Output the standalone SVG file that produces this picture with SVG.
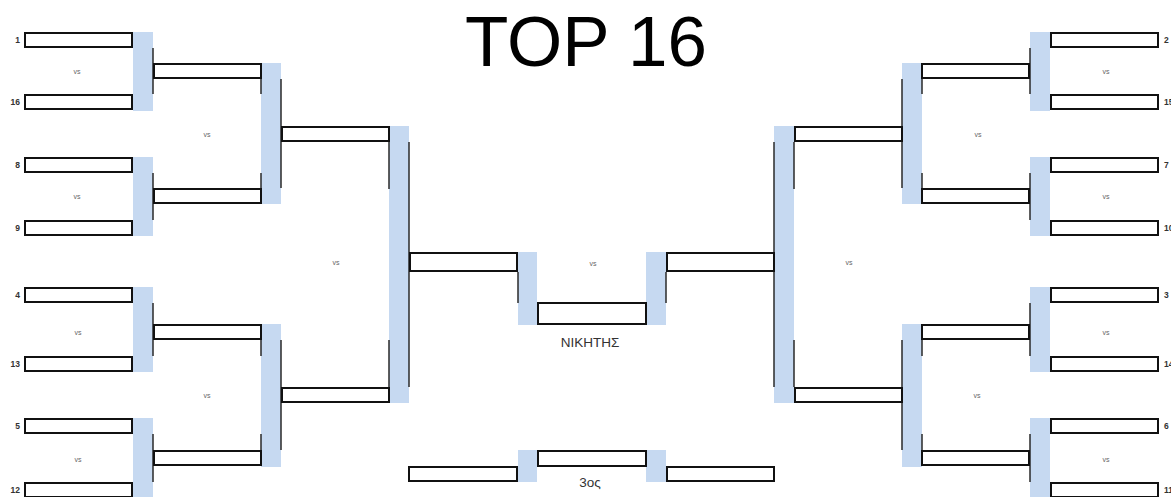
<svg xmlns="http://www.w3.org/2000/svg" width="1171" height="497" viewBox="0 0 1171 497">
<style>
.box{fill:#fff;stroke:#111;stroke-width:2}
.bar{fill:#c6d9f1}
.ln{stroke:#2a2a2a;stroke-width:1.5;fill:none}
.seed{font-family:"Liberation Sans",Arial,sans-serif;font-size:8.5px;font-weight:bold;fill:#333}
.vs{font-family:"Liberation Sans",Arial,sans-serif;font-size:7px;fill:#666;text-anchor:middle}
.lbl{font-family:"Liberation Sans",Arial,sans-serif;font-size:13.5px;fill:#333;text-anchor:middle}
.title{font-family:"Liberation Sans",Arial,sans-serif;font-size:71px;fill:#000;text-anchor:middle}
</style>
<rect width="1171" height="497" fill="#fff"/>
<text class="title" x="586" y="66">TOP 16</text>

<g id="connectors">
  <!-- blue bracket bars -->
  <rect class="bar" x="133" y="32" width="20" height="79"/>
  <rect class="bar" x="133" y="157" width="20" height="79"/>
  <rect class="bar" x="133" y="287" width="20" height="85"/>
  <rect class="bar" x="133" y="418" width="20" height="79"/>
  <rect class="bar" x="261" y="63" width="20" height="141"/>
  <rect class="bar" x="261" y="324" width="20" height="143"/>
  <rect class="bar" x="389" y="126" width="20" height="277"/>
  <rect class="bar" x="518" y="252" width="19" height="73"/>
  <rect class="bar" x="646" y="252" width="20" height="73"/>
  <rect class="bar" x="518" y="450" width="19" height="32"/>
  <rect class="bar" x="646" y="450" width="20" height="32"/>
  <rect class="bar" x="774" y="126" width="20" height="277"/>
  <rect class="bar" x="902" y="63" width="20" height="141"/>
  <rect class="bar" x="902" y="324" width="20" height="143"/>
  <rect class="bar" x="1030" y="32" width="20" height="79"/>
  <rect class="bar" x="1030" y="157" width="20" height="79"/>
  <rect class="bar" x="1030" y="287" width="20" height="85"/>
  <rect class="bar" x="1030" y="418" width="20" height="79"/>
  <!-- dark bracket lines -->
  <path class="ln" d="M153 48V94M153 173V220M153 303V356M153 434V482"/>
  <path class="ln" d="M261 79V94M261 173V188M261 340V356M261 434V450"/>
  <path class="ln" d="M281 79V188M281 340V450"/>
  <path class="ln" d="M389 142V189M389 340V387"/>
  <path class="ln" d="M409 142V387"/>
  <path class="ln" d="M518 272V303"/>
  <path class="ln" d="M666 272V303"/>
  <path class="ln" d="M774 142V387"/>
  <path class="ln" d="M794 142V189M794 340V387"/>
  <path class="ln" d="M902 79V188M902 340V450"/>
  <path class="ln" d="M922 79V94M922 173V188M922 340V356M922 434V450"/>
  <path class="ln" d="M1030 48V94M1030 173V220M1030 303V356M1030 434V482"/>
  <!-- vs labels -->
  <text class="vs" x="77" y="74">vs</text>
  <text class="vs" x="77" y="199">vs</text>
  <text class="vs" x="78" y="335">vs</text>
  <text class="vs" x="78" y="462">vs</text>
  <text class="vs" x="207" y="137">vs</text>
  <text class="vs" x="207" y="398">vs</text>
  <text class="vs" x="336" y="265">vs</text>
  <text class="vs" x="593" y="266">vs</text>
  <text class="vs" x="849" y="265">vs</text>
  <text class="vs" x="978" y="137">vs</text>
  <text class="vs" x="977" y="398">vs</text>
  <text class="vs" x="1106" y="74">vs</text>
  <text class="vs" x="1106" y="199">vs</text>
  <text class="vs" x="1106" y="335">vs</text>
  <text class="vs" x="1106" y="462">vs</text>
</g>

<!-- left round 1 -->
<g id="seed-1"><rect class="box" x="25" y="33" width="107" height="14"/><text class="seed" x="20" y="43" text-anchor="end">1</text></g>
<g id="seed-16"><rect class="box" x="25" y="95" width="107" height="14"/><text class="seed" x="20" y="105" text-anchor="end">16</text></g>
<g id="seed-8"><rect class="box" x="25" y="158" width="107" height="14"/><text class="seed" x="20" y="168" text-anchor="end">8</text></g>
<g id="seed-9"><rect class="box" x="25" y="221" width="107" height="14"/><text class="seed" x="20" y="231" text-anchor="end">9</text></g>
<g id="seed-4"><rect class="box" x="25" y="288" width="107" height="14"/><text class="seed" x="20" y="298" text-anchor="end">4</text></g>
<g id="seed-13"><rect class="box" x="25" y="357" width="107" height="14"/><text class="seed" x="20" y="367" text-anchor="end">13</text></g>
<g id="seed-5"><rect class="box" x="25" y="419" width="107" height="14"/><text class="seed" x="20" y="429" text-anchor="end">5</text></g>
<g id="seed-12"><rect class="box" x="25" y="483" width="107" height="14"/><text class="seed" x="20" y="493" text-anchor="end">12</text></g>

<!-- right round 1 -->
<g id="seed-2"><rect class="box" x="1051" y="33" width="107" height="14"/><text class="seed" x="1164" y="43">2</text></g>
<g id="seed-15"><rect class="box" x="1051" y="95" width="107" height="14"/><text class="seed" x="1164" y="105">15</text></g>
<g id="seed-7"><rect class="box" x="1051" y="158" width="107" height="14"/><text class="seed" x="1164" y="168">7</text></g>
<g id="seed-10"><rect class="box" x="1051" y="221" width="107" height="14"/><text class="seed" x="1164" y="231">10</text></g>
<g id="seed-3"><rect class="box" x="1051" y="288" width="107" height="14"/><text class="seed" x="1164" y="298">3</text></g>
<g id="seed-14"><rect class="box" x="1051" y="357" width="107" height="14"/><text class="seed" x="1164" y="367">14</text></g>
<g id="seed-6"><rect class="box" x="1051" y="419" width="107" height="14"/><text class="seed" x="1164" y="429">6</text></g>
<g id="seed-11"><rect class="box" x="1051" y="483" width="107" height="14"/><text class="seed" x="1164" y="493">11</text></g>

<!-- round 2 -->
<g id="r2-l1"><rect class="box" x="154" y="64" width="107" height="14"/></g>
<g id="r2-l2"><rect class="box" x="154" y="189" width="107" height="14"/></g>
<g id="r2-l3"><rect class="box" x="154" y="325" width="107" height="14"/></g>
<g id="r2-l4"><rect class="box" x="154" y="451" width="107" height="14"/></g>
<g id="r2-r1"><rect class="box" x="922" y="64" width="107" height="14"/></g>
<g id="r2-r2"><rect class="box" x="922" y="189" width="107" height="14"/></g>
<g id="r2-r3"><rect class="box" x="922" y="325" width="107" height="14"/></g>
<g id="r2-r4"><rect class="box" x="922" y="451" width="107" height="14"/></g>

<!-- quarterfinals -->
<g id="qf-l1"><rect class="box" x="282" y="127" width="107" height="14"/></g>
<g id="qf-l2"><rect class="box" x="282" y="388" width="107" height="14"/></g>
<g id="qf-r1"><rect class="box" x="795" y="127" width="107" height="14"/></g>
<g id="qf-r2"><rect class="box" x="795" y="388" width="107" height="14"/></g>

<!-- semifinals -->
<g id="sf-l"><rect class="box" x="410" y="253" width="107" height="18"/></g>
<g id="sf-r"><rect class="box" x="667" y="253" width="107" height="18"/></g>

<!-- winner -->
<g id="winner"><rect class="box" x="538" y="303" width="108" height="21"/><text class="lbl" x="590" y="347">ΝΙΚΗΤΗΣ</text></g>

<!-- third place -->
<g id="third-l"><rect class="box" x="409" y="467" width="108" height="14"/></g>
<g id="third-r"><rect class="box" x="667" y="467" width="107" height="14"/></g>
<g id="third"><rect class="box" x="538" y="451" width="108" height="15"/><text class="lbl" x="590" y="487">3ος</text></g>
</svg>
